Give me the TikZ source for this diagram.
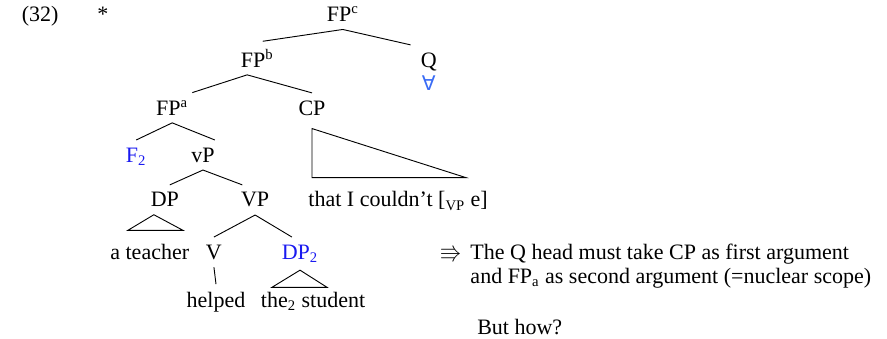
\documentclass[tikz,border=0pt,12pt]{standalone}
\usepackage{fontspec}
\setmainfont{Liberation Serif}
\newfontfamily\symfont{DejaVu Sans}
\usepackage{amssymb}
\usetikzlibrary{positioning}
\definecolor{idx}{HTML}{1A1AF0}
\definecolor{quant}{HTML}{3A6CF5}

\begin{document}
\begin{tikzpicture}[
    every node/.style={font=\fontsize{12}{13.2}\selectfont},
    cat/.style={anchor=base, inner sep=4pt},
    branch/.style={line width=0.5pt, black}
]
    \useasboundingbox (0,0) rectangle (17.0,6.497);
    % example number
    \node[cat] (num)  at (0.77,6.08) {(32)};
    \node[cat] (star) at (1.97,6.08) {*};
    % tree
    \node[cat] (fpc) at (6.57,6.08) {FP\textsuperscript{c}};
    \node[cat] (fpb) at (4.93,5.21) {FP\textsuperscript{b}};
    \node[cat] (q)   at (8.22,5.21) {Q};
    \node[cat, text=quant, font=\symfont\fontsize{11}{12}\selectfont] (all) at (8.22,4.77) {∀};
    \node[cat] (fpa) at (3.30,4.29) {FP\textsuperscript{a}};
    \node[cat] (cp)  at (5.98,4.29) {CP};
    \node[cat, text=idx] (f2) at (2.61,3.39) {F\textsubscript{2}};
    \node[cat] (vp)  at (3.89,3.39) {vP};
    \node[cat] (dp)  at (3.16,2.53) {DP};
    \node[cat] (bvp) at (4.89,2.53) {VP};
    \node[cat] (that) at (7.63,2.53) {that I couldn't [\textsubscript{VP} e]};
    \node[cat] (teacher) at (2.87,1.53) {a teacher};
    \node[cat] (v)   at (4.10,1.53) {V};
    \node[cat, text=idx] (dp2) at (5.75,1.53) {DP\textsubscript{2}};
    \node[cat] (helped)  at (4.14,0.61) {helped};
    \node[cat] (student) at (6.00,0.61) {the\textsubscript{2} student};

    \draw[branch] (fpc.south) -- ([xshift=3pt]fpb.north);
    \draw[branch] (fpc.south) -- ([xshift=-10pt]q.north);
    \draw[branch] ([xshift=-5.5pt]fpb.south) -- ([xshift=11pt]fpa.north);
    \draw[branch] ([xshift=-5.5pt]fpb.south) -- (cp.north);
    \draw[branch] (fpa.south) -- (f2.north);
    \draw[branch] (fpa.south) -- ([xshift=6.5pt]vp.north);
    \draw[branch] (vp.south) -- ([xshift=2.7pt]dp.north);
    \draw[branch] (vp.south) -- ([xshift=-7pt]bvp.north);
    \draw[branch] (bvp.south) -- (v.north);
    \draw[branch] (bvp.south) -- ([xshift=-4.4pt]dp2.north);
    \draw[branch] (v.south) -- (helped.north);
    % triangles
    \draw[branch] ([yshift=-3pt]cp.south) -- ++(0,-0.94) -- ++(2.95,0) -- cycle;
    \draw[branch] ([xshift=-6pt]dp.south) -- ++(-0.5,-0.3) -- ++(1.06,0) -- cycle;
    \draw[branch] (dp2.south) -- ++(-0.54,-0.33) -- ++(1.06,0) -- cycle;

    % remark
    \node[cat] (arr) at (8.64,1.53) {$\Rrightarrow$};
    \node[anchor=base west, inner sep=0pt, align=left,
          font=\fontsize{12}{13.1}\selectfont] (note) at (9.01,1.07)
        {The Q head must take CP as first argument\\
         and FP\textsubscript{a} as second argument (=nuclear scope)};
    \node[anchor=base west, inner sep=0pt] (how) at (9.14,0.08) {But how?};
\end{tikzpicture}
\end{document}
